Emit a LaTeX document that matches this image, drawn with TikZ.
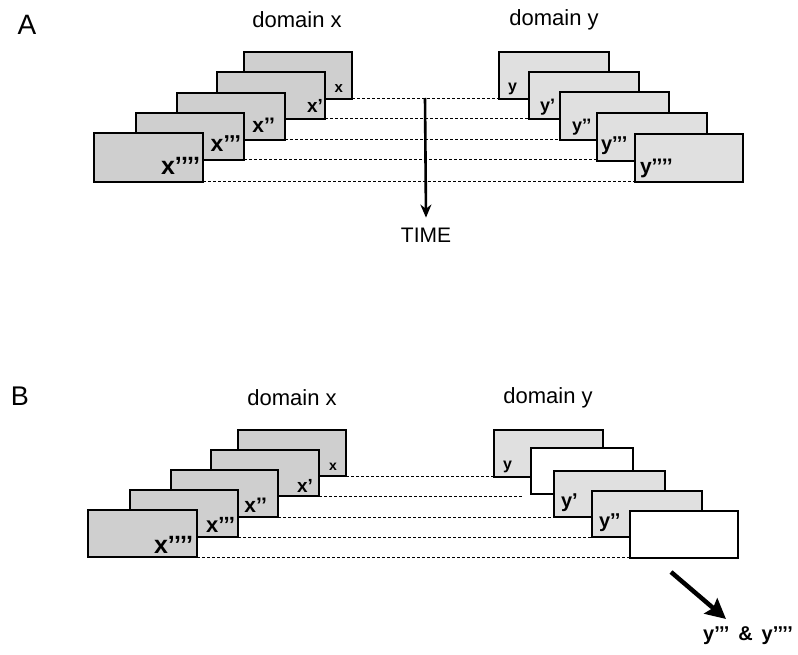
\documentclass[tikz,border=0pt]{standalone}
\usepackage{fontspec}
\setmainfont{Liberation Sans}
\usetikzlibrary{arrows.meta}
\newcommand{\fs}[1]{\fontsize{#1}{#1}\selectfont}
\begin{document}
\begin{tikzpicture}[x=1pt,y=-1pt,
  box/.style={draw=black, line width=1.2pt, inner sep=0pt, outer sep=0pt, anchor=north west},
  xb/.style={box, fill=gray!38, minimum width=108pt, minimum height=47pt},
  yb/.style={box, fill=gray!24, minimum width=109pt, minimum height=47pt},
  wb/.style={box, fill=white, minimum height=46pt},
  lab/.style={inner sep=0pt, outer sep=0pt, font=\bfseries},
  dom/.style={inner sep=0pt, font=\fs{22}},
  panel/.style={inner sep=0pt, font=\fs{28}},
  link/.style={dash pattern=on 3pt off 2pt, line width=1pt},
]
\useasboundingbox (0,0) rectangle (798,655);

% ---------------- Panel A ----------------
\node[panel] (pA) at (27,25) {A};
\node[dom] (adx) at (297,20) {domain x};
\node[dom] (ady) at (554,20) {domain y};

\node[xb] (ax1) at (244,52) {};
\node[xb] (ax2) at (217,72) {};
\node[xb] (ax3) at (177,93) {};
\node[xb] (ax4) at (136,113) {};
\node[xb, minimum width=109pt, minimum height=49pt] (ax5) at (94,133) {};

\node[lab, anchor=south east, font=\bfseries\fs{15}] (lax1) at ([xshift=-9pt,yshift=6pt]ax1.south east) {x};
\node[lab, anchor=south east, font=\bfseries\fs{19}] (lax2) at ([xshift=-2pt,yshift=6pt]ax2.south east) {x’};
\node[lab, anchor=south east, font=\bfseries\fs{21}] (lax3) at ([xshift=-10pt,yshift=7pt]ax3.south east) {x’’};
\node[lab, anchor=south east, font=\bfseries\fs{23}] (lax4) at ([xshift=-3pt,yshift=8pt]ax4.south east) {x’’’};
\node[lab, anchor=south east, font=\bfseries\fs{25}] (lax5) at ([xshift=-3pt,yshift=7pt]ax5.south east) {x’’’’};

\node[yb, minimum width=110pt] (ay1) at (499,52) {};
\node[yb, minimum width=110pt] (ay2) at (529,72) {};
\node[yb, minimum height=48pt] (ay3) at (560,92) {};
\node[yb, minimum width=110pt, minimum height=48pt] (ay4) at (597,113) {};
\node[yb, minimum width=108pt, minimum height=48pt] (ay5) at (635,134) {};

\node[lab, anchor=south west, font=\bfseries\fs{16}] (lay1) at ([xshift=9pt,yshift=4pt]ay1.south west) {y};
\node[lab, anchor=south west, font=\bfseries\fs{18}] (lay2) at ([xshift=11pt,yshift=4pt]ay2.south west) {y’};
\node[lab, anchor=south west, font=\bfseries\fs{18}] (lay3) at ([xshift=12pt,yshift=5pt]ay3.south west) {y’’};
\node[lab, anchor=south west, font=\bfseries\fs{20}] (lay4) at ([xshift=4pt,yshift=6pt]ay4.south west) {y’’’};
\node[lab, anchor=south west, font=\bfseries\fs{21}] (lay5) at ([xshift=5pt,yshift=4pt]ay5.south west) {y’’’’};

\draw[link] (ax1.south east) -- (ax1.south east -| ay1.south west);
\draw[link] (ax2.south east) -- (ax2.south east -| ay2.south west);
\draw[link] (ax3.south east) -- (ax3.south east -| ay3.south west);
\draw[link] (ax4.south east) -- (ax4.south east -| ay4.south west);
\draw[link] (ax5.south east) -- (ax5.south east -| ay5.south west);

\coordinate (tstart) at (425,98);
\node[inner sep=0pt, font=\fs{21}] (time) at (426,235) {TIME};
\draw[line width=2.6pt, -{Stealth[length=13pt,width=11pt]}] (tstart) -- ([yshift=10pt]time.north);

% ---------------- Panel B ----------------
\node[panel, font=\fs{27}] (pB) at (20,396) {B};
\node[dom] (bdx) at (292,398) {domain x};
\node[dom] (bdy) at (548,398) {domain y};

\node[xb, minimum height=46pt] (bx1) at (238,430) {};
\node[xb, minimum height=46pt] (bx2) at (211,450) {};
\node[xb, minimum width=107pt] (bx3) at (171,470) {};
\node[xb] (bx4) at (130,490) {};
\node[xb, minimum width=109pt] (bx5) at (88,510) {};

\node[lab, anchor=south east, font=\bfseries\fs{14}] (lbx1) at ([xshift=-9pt,yshift=6pt]bx1.south east) {x};
\node[lab, anchor=south east, font=\bfseries\fs{19}] (lbx2) at ([xshift=-6pt,yshift=4pt]bx2.south east) {x’};
\node[lab, anchor=south east, font=\bfseries\fs{21}] (lbx3) at ([xshift=-11pt,yshift=5pt]bx3.south east) {x’’};
\node[lab, anchor=south east, font=\bfseries\fs{22}] (lbx4) at ([xshift=-3pt,yshift=5pt]bx4.south east) {x’’’};
\node[lab, anchor=south east, font=\bfseries\fs{25}] (lbx5) at ([xshift=-4pt,yshift=4pt]bx5.south east) {x’’’’};

\node[yb] (by1) at (494,430) {};
\node[wb, minimum width=102pt] (by2) at (531,448) {};
\node[yb, minimum width=111pt, minimum height=46pt] (by3) at (554,471) {};
\node[yb, minimum width=110pt, minimum height=46pt] (by4) at (592,491) {};
\node[wb, minimum width=108pt, minimum height=47pt] (by5) at (630,511) {};

\node[lab, anchor=south west, font=\bfseries\fs{16}] (lby1) at ([xshift=9pt,yshift=4pt]by1.south west) {y};
\node[lab, anchor=south west, font=\bfseries\fs{20}] (lby3) at ([xshift=7pt,yshift=5pt]by3.south west) {y’};
\node[lab, anchor=south west, font=\bfseries\fs{20}] (lby4) at ([xshift=7pt,yshift=5pt]by4.south west) {y’’};

\coordinate (bend2) at (522,497);
\draw[link] (bx1.south east) -- (bx1.south east -| by1.south west);
\draw[link] (bx2.south east) -- (bx2.south east -| bend2);
\draw[link] (bx3.south east) -- (bx3.south east -| by3.south west);
\draw[link] (bx4.south east) -- (bx4.south east -| by4.south west);
\draw[link] (bx5.south east) -- (bx5.south east -| by5.south west);

\coordinate (bastart) at (671,572);
\coordinate (batip) at (726,619);
\draw[line width=4.5pt, -{Stealth[length=20pt,width=20pt,inset=3pt]}] (bastart) -- (batip);
\node[inner sep=0pt, font=\bfseries\fs{20}] (res) at (748,636) {y’’’ \,\&\, y’’’’};
\end{tikzpicture}
\end{document}
